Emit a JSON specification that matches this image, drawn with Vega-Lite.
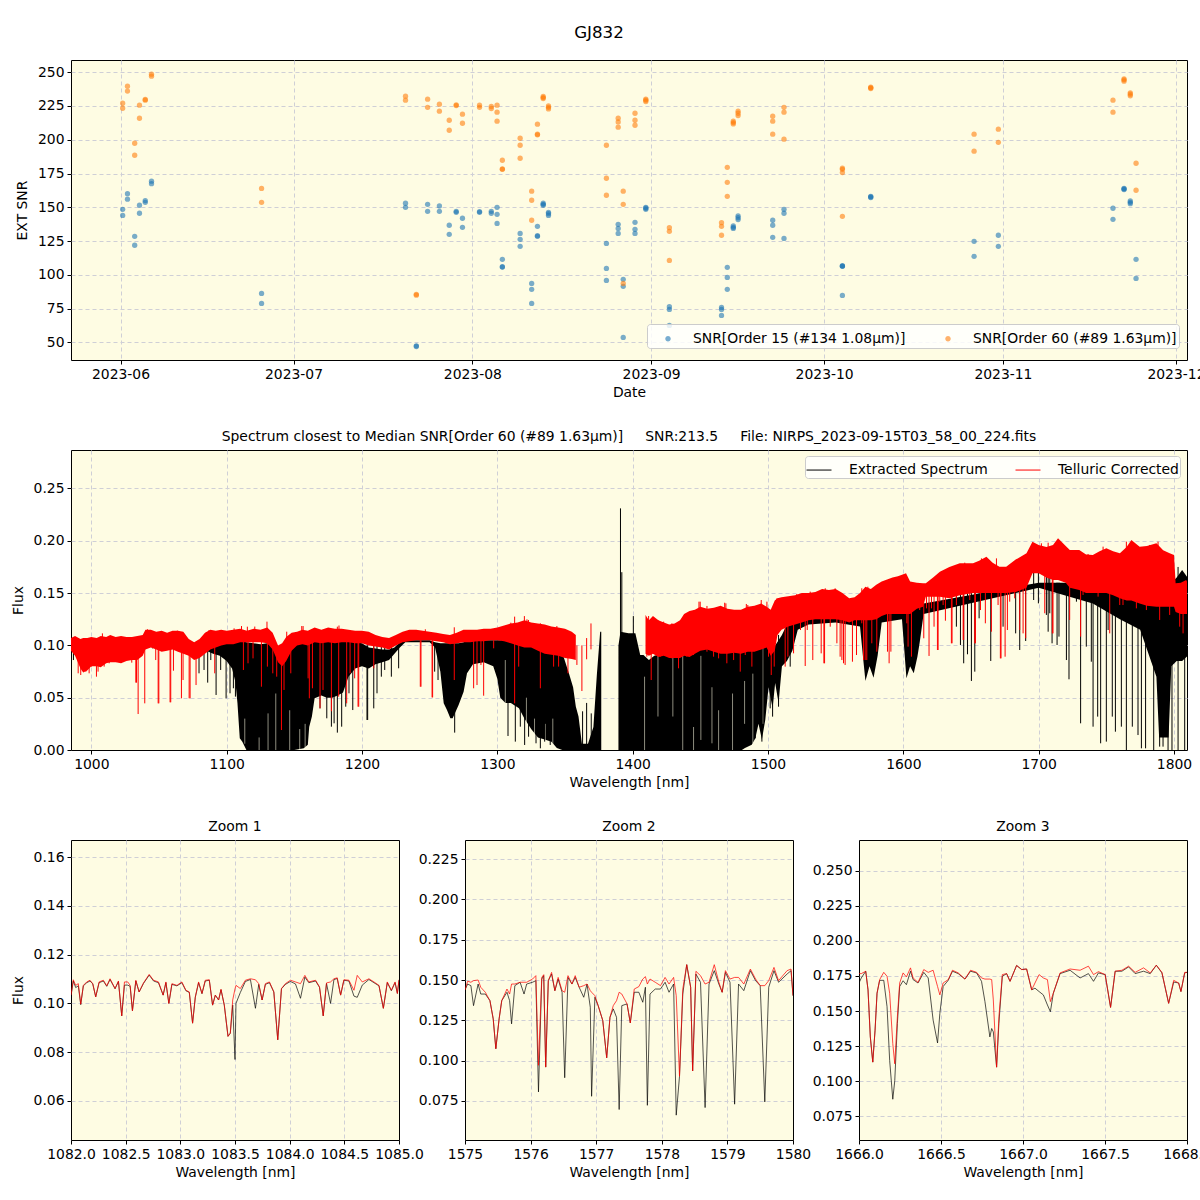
{"$schema":"https://vega.github.io/schema/vega-lite/v6.json","padding":{"left":10,"top":24,"right":0,"bottom":5},"bounds":"flush","spacing":90,"title":{"text":"GJ832","fontSize":16.7,"fontWeight":"normal","font":"DejaVu Sans","anchor":"middle","dx":528,"offset":18,"frame":"group"},"config":{"font":"DejaVu Sans","view":{"fill":"#fefce3","stroke":"black","strokeWidth":1},"axis":{"domain":false,"tickColor":"black","tickSize":4,"labelFontSize":13.9,"titleFontSize":13.9,"titleFontWeight":"normal","labelColor":"black","titleColor":"black","gridColor":"#cfcfd6","gridDash":[4,3],"gridWidth":1,"labelPadding":3,"labelFlush":false,"labelOverlap":false},"title":{"fontSize":13.9,"fontWeight":"normal","offset":6,"color":"black"},"legend":{"labelFontSize":13.9,"labelColor":"black","labelLimit":500,"fillColor":"rgba(255,255,255,0.82)","strokeColor":"#cccccc","cornerRadius":3}},"resolve":{"scale":{"color":"independent"},"legend":{"color":"independent"}},"datasets":{"snr":[
{"d":"2023-06-01T09:00","v":148.5,"o":"15"},{"d":"2023-06-01T09:00","v":144,"o":"15"},{"d":"2023-06-02T05:00","v":160.1,"o":"15"},{"d":"2023-06-02T05:00","v":156,"o":"15"},{"d":"2023-06-03T11:00","v":128.5,"o":"15"},{"d":"2023-06-03T11:00","v":121.9,"o":"15"},{"d":"2023-06-04T07:00","v":151.5,"o":"15"},{"d":"2023-06-04T07:00","v":145.6,"o":"15"},{"d":"2023-06-05T07:00","v":155,"o":"15"},{"d":"2023-06-05T07:00","v":153.7,"o":"15"},{"d":"2023-06-06T09:00","v":169.3,"o":"15"},{"d":"2023-06-06T09:00","v":167.5,"o":"15"},{"d":"2023-06-25T11:00","v":86.3,"o":"15"},{"d":"2023-06-25T11:00","v":78.9,"o":"15"},{"d":"2023-07-20T10:00","v":153,"o":"15"},{"d":"2023-07-20T10:00","v":150,"o":"15"},{"d":"2023-07-22T07:00","v":47,"o":"15"},{"d":"2023-07-22T07:00","v":47.5,"o":"15"},{"d":"2023-07-24T06:00","v":152.2,"o":"15"},{"d":"2023-07-24T06:00","v":147,"o":"15"},{"d":"2023-07-26T07:00","v":151,"o":"15"},{"d":"2023-07-26T07:00","v":147,"o":"15"},{"d":"2023-07-28T00:00","v":136.7,"o":"15"},{"d":"2023-07-28T00:00","v":130,"o":"15"},{"d":"2023-07-29T05:00","v":147,"o":"15"},{"d":"2023-07-29T05:00","v":146.3,"o":"15"},{"d":"2023-07-30T07:00","v":141.9,"o":"15"},{"d":"2023-07-30T07:00","v":135.2,"o":"15"},{"d":"2023-08-02T06:00","v":146.8,"o":"15"},{"d":"2023-08-02T06:00","v":146.3,"o":"15"},{"d":"2023-08-04T07:00","v":147,"o":"15"},{"d":"2023-08-04T07:00","v":145.6,"o":"15"},{"d":"2023-08-05T07:00","v":150,"o":"15"},{"d":"2023-08-05T07:00","v":144.8,"o":"15"},{"d":"2023-08-05T07:00","v":138.1,"o":"15"},{"d":"2023-08-06T05:00","v":111.5,"o":"15"},{"d":"2023-08-06T05:00","v":106,"o":"15"},{"d":"2023-08-06T05:00","v":105.8,"o":"15"},{"d":"2023-08-09T07:00","v":130.7,"o":"15"},{"d":"2023-08-09T07:00","v":126.3,"o":"15"},{"d":"2023-08-09T07:00","v":121.1,"o":"15"},{"d":"2023-08-11T07:00","v":93.7,"o":"15"},{"d":"2023-08-11T07:00","v":89.3,"o":"15"},{"d":"2023-08-11T07:00","v":78.9,"o":"15"},{"d":"2023-08-12T07:00","v":135.9,"o":"15"},{"d":"2023-08-12T07:00","v":129,"o":"15"},{"d":"2023-08-12T07:00","v":128.5,"o":"15"},{"d":"2023-08-13T07:00","v":153,"o":"15"},{"d":"2023-08-13T07:00","v":152.2,"o":"15"},{"d":"2023-08-13T07:00","v":151.5,"o":"15"},{"d":"2023-08-14T05:00","v":146.3,"o":"15"},{"d":"2023-08-14T05:00","v":145.3,"o":"15"},{"d":"2023-08-14T05:00","v":144,"o":"15"},{"d":"2023-08-24T06:00","v":123.3,"o":"15"},{"d":"2023-08-24T06:00","v":104.8,"o":"15"},{"d":"2023-08-24T06:00","v":95.9,"o":"15"},{"d":"2023-08-26T07:00","v":137.4,"o":"15"},{"d":"2023-08-26T07:00","v":134.4,"o":"15"},{"d":"2023-08-26T07:00","v":130.7,"o":"15"},{"d":"2023-08-27T04:00","v":96.7,"o":"15"},{"d":"2023-08-27T04:00","v":91.5,"o":"15"},{"d":"2023-08-27T04:00","v":53.7,"o":"15"},{"d":"2023-08-29T05:00","v":138.9,"o":"15"},{"d":"2023-08-29T05:00","v":133.7,"o":"15"},{"d":"2023-08-29T05:00","v":130.7,"o":"15"},{"d":"2023-08-31T02:00","v":150,"o":"15"},{"d":"2023-08-31T02:00","v":149.3,"o":"15"},{"d":"2023-08-31T02:00","v":148.5,"o":"15"},{"d":"2023-09-04T04:00","v":76.4,"o":"15"},{"d":"2023-09-04T04:00","v":74.4,"o":"15"},{"d":"2023-09-04T04:00","v":62.6,"o":"15"},{"d":"2023-09-13T05:00","v":75.9,"o":"15"},{"d":"2023-09-13T05:00","v":74.4,"o":"15"},{"d":"2023-09-13T05:00","v":70,"o":"15"},{"d":"2023-09-14T05:00","v":105.6,"o":"15"},{"d":"2023-09-14T05:00","v":98.1,"o":"15"},{"d":"2023-09-14T05:00","v":89.3,"o":"15"},{"d":"2023-09-15T06:00","v":136.2,"o":"15"},{"d":"2023-09-15T06:00","v":135.2,"o":"15"},{"d":"2023-09-15T06:00","v":134.4,"o":"15"},{"d":"2023-09-16T02:00","v":143.6,"o":"15"},{"d":"2023-09-16T02:00","v":142.3,"o":"15"},{"d":"2023-09-16T02:00","v":140.9,"o":"15"},{"d":"2023-09-22T02:00","v":140.4,"o":"15"},{"d":"2023-09-22T02:00","v":136.7,"o":"15"},{"d":"2023-09-22T02:00","v":127.8,"o":"15"},{"d":"2023-09-24T01:00","v":148.5,"o":"15"},{"d":"2023-09-24T01:00","v":145.6,"o":"15"},{"d":"2023-09-24T01:00","v":127,"o":"15"},{"d":"2023-10-04T04:00","v":106.8,"o":"15"},{"d":"2023-10-04T04:00","v":106.5,"o":"15"},{"d":"2023-10-04T04:00","v":106.3,"o":"15"},{"d":"2023-10-04T04:00","v":84.8,"o":"15"},{"d":"2023-10-09T02:00","v":158.1,"o":"15"},{"d":"2023-10-09T02:00","v":157.7,"o":"15"},{"d":"2023-10-09T02:00","v":157.2,"o":"15"},{"d":"2023-10-27T00:00","v":124.8,"o":"15"},{"d":"2023-10-27T00:00","v":113.7,"o":"15"},{"d":"2023-10-31T05:00","v":129.3,"o":"15"},{"d":"2023-10-31T05:00","v":121.1,"o":"15"},{"d":"2023-11-20T02:00","v":149.3,"o":"15"},{"d":"2023-11-20T02:00","v":141.1,"o":"15"},{"d":"2023-11-22T00:00","v":164,"o":"15"},{"d":"2023-11-22T00:00","v":163.6,"o":"15"},{"d":"2023-11-22T00:00","v":163.1,"o":"15"},{"d":"2023-11-23T02:00","v":154.7,"o":"15"},{"d":"2023-11-23T02:00","v":153.7,"o":"15"},{"d":"2023-11-23T02:00","v":152.7,"o":"15"},{"d":"2023-11-24T02:00","v":111.5,"o":"15"},{"d":"2023-11-24T02:00","v":97.4,"o":"15"},
{"d":"2023-06-01T09:00","v":227,"o":"60"},{"d":"2023-06-01T09:00","v":223.3,"o":"60"},{"d":"2023-06-02T05:00","v":239.6,"o":"60"},{"d":"2023-06-02T05:00","v":236,"o":"60"},{"d":"2023-06-03T11:00","v":197.4,"o":"60"},{"d":"2023-06-03T11:00","v":188.5,"o":"60"},{"d":"2023-06-04T07:00","v":225.6,"o":"60"},{"d":"2023-06-04T07:00","v":215.9,"o":"60"},{"d":"2023-06-05T07:00","v":229.8,"o":"60"},{"d":"2023-06-05T07:00","v":229.3,"o":"60"},{"d":"2023-06-06T09:00","v":248.5,"o":"60"},{"d":"2023-06-06T09:00","v":247,"o":"60"},{"d":"2023-06-25T11:00","v":164,"o":"60"},{"d":"2023-06-25T11:00","v":153.7,"o":"60"},{"d":"2023-07-20T10:00","v":232.2,"o":"60"},{"d":"2023-07-20T10:00","v":229.3,"o":"60"},{"d":"2023-07-22T07:00","v":85.6,"o":"60"},{"d":"2023-07-22T07:00","v":85,"o":"60"},{"d":"2023-07-24T06:00","v":230,"o":"60"},{"d":"2023-07-24T06:00","v":224,"o":"60"},{"d":"2023-07-26T07:00","v":226.3,"o":"60"},{"d":"2023-07-26T07:00","v":221.1,"o":"60"},{"d":"2023-07-28T00:00","v":214.4,"o":"60"},{"d":"2023-07-28T00:00","v":207,"o":"60"},{"d":"2023-07-29T05:00","v":225.8,"o":"60"},{"d":"2023-07-29T05:00","v":225.3,"o":"60"},{"d":"2023-07-30T07:00","v":218.9,"o":"60"},{"d":"2023-07-30T07:00","v":212.2,"o":"60"},{"d":"2023-08-02T06:00","v":225.6,"o":"60"},{"d":"2023-08-02T06:00","v":224,"o":"60"},{"d":"2023-08-04T07:00","v":224.6,"o":"60"},{"d":"2023-08-04T07:00","v":223.1,"o":"60"},{"d":"2023-08-05T07:00","v":225.6,"o":"60"},{"d":"2023-08-05T07:00","v":220.4,"o":"60"},{"d":"2023-08-05T07:00","v":213.7,"o":"60"},{"d":"2023-08-06T05:00","v":184.8,"o":"60"},{"d":"2023-08-06T05:00","v":178.4,"o":"60"},{"d":"2023-08-06T05:00","v":178.1,"o":"60"},{"d":"2023-08-09T07:00","v":201.1,"o":"60"},{"d":"2023-08-09T07:00","v":195.9,"o":"60"},{"d":"2023-08-09T07:00","v":186.3,"o":"60"},{"d":"2023-08-11T07:00","v":161.9,"o":"60"},{"d":"2023-08-11T07:00","v":155.2,"o":"60"},{"d":"2023-08-11T07:00","v":140.4,"o":"60"},{"d":"2023-08-12T07:00","v":211.5,"o":"60"},{"d":"2023-08-12T07:00","v":204.1,"o":"60"},{"d":"2023-08-12T07:00","v":203.6,"o":"60"},{"d":"2023-08-13T07:00","v":232,"o":"60"},{"d":"2023-08-13T07:00","v":231.2,"o":"60"},{"d":"2023-08-13T07:00","v":230.5,"o":"60"},{"d":"2023-08-14T05:00","v":225,"o":"60"},{"d":"2023-08-14T05:00","v":224,"o":"60"},{"d":"2023-08-14T05:00","v":222.8,"o":"60"},{"d":"2023-08-24T06:00","v":195.9,"o":"60"},{"d":"2023-08-24T06:00","v":171.5,"o":"60"},{"d":"2023-08-24T06:00","v":158.9,"o":"60"},{"d":"2023-08-26T07:00","v":215.9,"o":"60"},{"d":"2023-08-26T07:00","v":213.2,"o":"60"},{"d":"2023-08-26T07:00","v":209.3,"o":"60"},{"d":"2023-08-27T04:00","v":161.9,"o":"60"},{"d":"2023-08-27T04:00","v":152.2,"o":"60"},{"d":"2023-08-27T04:00","v":93.7,"o":"60"},{"d":"2023-08-29T05:00","v":219.6,"o":"60"},{"d":"2023-08-29T05:00","v":214.4,"o":"60"},{"d":"2023-08-29T05:00","v":210.7,"o":"60"},{"d":"2023-08-31T02:00","v":230,"o":"60"},{"d":"2023-08-31T02:00","v":229.3,"o":"60"},{"d":"2023-08-31T02:00","v":228.3,"o":"60"},{"d":"2023-09-04T04:00","v":134.9,"o":"60"},{"d":"2023-09-04T04:00","v":132.2,"o":"60"},{"d":"2023-09-04T04:00","v":110.7,"o":"60"},{"d":"2023-09-13T05:00","v":138.6,"o":"60"},{"d":"2023-09-13T05:00","v":135.9,"o":"60"},{"d":"2023-09-13T05:00","v":129.3,"o":"60"},{"d":"2023-09-14T05:00","v":179.6,"o":"60"},{"d":"2023-09-14T05:00","v":168.5,"o":"60"},{"d":"2023-09-14T05:00","v":158.1,"o":"60"},{"d":"2023-09-15T06:00","v":213.7,"o":"60"},{"d":"2023-09-15T06:00","v":212.7,"o":"60"},{"d":"2023-09-15T06:00","v":211.7,"o":"60"},{"d":"2023-09-16T02:00","v":221.1,"o":"60"},{"d":"2023-09-16T02:00","v":219.6,"o":"60"},{"d":"2023-09-16T02:00","v":217.9,"o":"60"},{"d":"2023-09-22T02:00","v":217.4,"o":"60"},{"d":"2023-09-22T02:00","v":213.7,"o":"60"},{"d":"2023-09-22T02:00","v":204.1,"o":"60"},{"d":"2023-09-24T01:00","v":224,"o":"60"},{"d":"2023-09-24T01:00","v":220.4,"o":"60"},{"d":"2023-09-24T01:00","v":200.4,"o":"60"},{"d":"2023-10-04T04:00","v":178.9,"o":"60"},{"d":"2023-10-04T04:00","v":178.1,"o":"60"},{"d":"2023-10-04T04:00","v":175.7,"o":"60"},{"d":"2023-10-04T04:00","v":143.3,"o":"60"},{"d":"2023-10-09T02:00","v":238.9,"o":"60"},{"d":"2023-10-09T02:00","v":238.4,"o":"60"},{"d":"2023-10-09T02:00","v":237.9,"o":"60"},{"d":"2023-10-27T00:00","v":204.1,"o":"60"},{"d":"2023-10-27T00:00","v":191.5,"o":"60"},{"d":"2023-10-31T05:00","v":207.8,"o":"60"},{"d":"2023-10-31T05:00","v":198.1,"o":"60"},{"d":"2023-11-20T02:00","v":229.3,"o":"60"},{"d":"2023-11-20T02:00","v":220.4,"o":"60"},{"d":"2023-11-22T00:00","v":245,"o":"60"},{"d":"2023-11-22T00:00","v":244.3,"o":"60"},{"d":"2023-11-22T00:00","v":243.3,"o":"60"},{"d":"2023-11-23T02:00","v":234.7,"o":"60"},{"d":"2023-11-23T02:00","v":233.7,"o":"60"},{"d":"2023-11-23T02:00","v":232.5,"o":"60"},{"d":"2023-11-24T02:00","v":182.6,"o":"60"},{"d":"2023-11-24T02:00","v":162.6,"o":"60"}],
"blackBand":[
{"w":1085,"lo":0.095,"hi":0.105,"g":1},{"w":1090,"lo":0.092,"hi":0.106,"g":1},{"w":1095,"lo":0.09,"hi":0.106,"g":1},{"w":1100,"lo":0.085,"hi":0.104,"g":1},{"w":1104,"lo":0.078,"hi":0.106,"g":1},{"w":1106.5,"lo":0.065,"hi":0.104,"g":1},{"w":1108,"lo":0.0446,"hi":0.103,"g":1},{"w":1109.7,"lo":0.0112,"hi":0.104,"g":1},{"w":1111.6,"lo":0.008,"hi":0.104,"g":1},{"w":1114.6,"lo":0,"hi":0.103,"g":1},{"w":1120,"lo":0,"hi":0.102,"g":1},{"w":1125,"lo":0,"hi":0.101,"g":1},{"w":1130,"lo":0,"hi":0.102,"g":1},{"w":1135,"lo":0,"hi":0.098,"g":1},{"w":1140,"lo":0,"hi":0.097,"g":1},{"w":1143,"lo":0,"hi":0.098,"g":1},{"w":1146,"lo":0,"hi":0.104,"g":1},{"w":1150,"lo":0,"hi":0.104,"g":1},{"w":1157,"lo":0.0016,"hi":0.104,"g":1},{"w":1160,"lo":0.005,"hi":0.105,"g":1},{"w":1161,"lo":0.022,"hi":0.105,"g":1},{"w":1163,"lo":0.032,"hi":0.104,"g":1},{"w":1165,"lo":0.0494,"hi":0.104,"g":1},{"w":1170,"lo":0.052,"hi":0.104,"g":1},{"w":1174,"lo":0.05,"hi":0.106,"g":1},{"w":1178,"lo":0.05,"hi":0.105,"g":1},{"w":1182,"lo":0.052,"hi":0.106,"g":1},{"w":1186,"lo":0.055,"hi":0.106,"g":1},{"w":1190,"lo":0.07,"hi":0.104,"g":1},{"w":1195,"lo":0.078,"hi":0.103,"g":1},{"w":1200,"lo":0.08,"hi":0.102,"g":1},{"w":1205,"lo":0.078,"hi":0.098,"g":1},{"w":1210,"lo":0.082,"hi":0.097,"g":1},{"w":1215,"lo":0.084,"hi":0.096,"g":1},{"w":1220,"lo":0.086,"hi":0.096,"g":1},{"w":1224,"lo":0.092,"hi":0.098,"g":1},{"w":1228,"lo":0.098,"hi":0.103,"g":1},{"w":1232,"lo":0.103,"hi":0.105,"g":1},{"w":1250,"lo":0.103,"hi":0.105,"g":1},{"w":1254,"lo":0.098,"hi":0.103,"g":1},{"w":1257.9,"lo":0.075,"hi":0.102,"g":1},{"w":1260.4,"lo":0.0446,"hi":0.102,"g":1},{"w":1262.8,"lo":0.0382,"hi":0.102,"g":1},{"w":1265.3,"lo":0.0303,"hi":0.102,"g":1},{"w":1267,"lo":0.0303,"hi":0.102,"g":1},{"w":1271.4,"lo":0.043,"hi":0.102,"g":1},{"w":1275.1,"lo":0.0558,"hi":0.103,"g":1},{"w":1277.6,"lo":0.0733,"hi":0.104,"g":1},{"w":1282,"lo":0.082,"hi":0.105,"g":1},{"w":1290,"lo":0.084,"hi":0.105,"g":1},{"w":1297,"lo":0.08,"hi":0.105,"g":1},{"w":1300,"lo":0.068,"hi":0.105,"g":1},{"w":1302.2,"lo":0.05,"hi":0.105,"g":1},{"w":1306,"lo":0.045,"hi":0.106,"g":1},{"w":1310,"lo":0.045,"hi":0.108,"g":1},{"w":1316,"lo":0.04,"hi":0.11,"g":1},{"w":1320,"lo":0.03,"hi":0.112,"g":1},{"w":1325,"lo":0.02,"hi":0.113,"g":1},{"w":1330,"lo":0.012,"hi":0.11,"g":1},{"w":1335,"lo":0.01,"hi":0.109,"g":1},{"w":1340,"lo":0.008,"hi":0.108,"g":1},{"w":1344,"lo":0.002,"hi":0.1,"g":1},{"w":1348,"lo":0,"hi":0.093,"g":1},{"w":1353,"lo":0,"hi":0.073,"g":1},{"w":1356,"lo":0,"hi":0.06,"g":1},{"w":1358,"lo":0,"hi":0.0415,"g":1},{"w":1360,"lo":0,"hi":0.032,"g":1},{"w":1362.5,"lo":0,"hi":0.006,"g":1},{"w":1367,"lo":0,"hi":0.006,"g":1},{"w":1371,"lo":0,"hi":0.022,"g":1},{"w":1373.6,"lo":0,"hi":0.073,"g":1},{"w":1376,"lo":0,"hi":0.113,"g":1},{"w":1376.8,"lo":0,"hi":0.113,"g":1},
{"w":1389.5,"lo":0,"hi":0.1,"g":2},{"w":1391,"lo":0,"hi":0.113,"g":2},{"w":1397,"lo":0,"hi":0.1115,"g":2},{"w":1402,"lo":0,"hi":0.1115,"g":2},{"w":1405.6,"lo":0,"hi":0.0908,"g":2},{"w":1408,"lo":0,"hi":0.0908,"g":2},{"w":1412,"lo":0,"hi":0.086,"g":2},{"w":1416,"lo":0,"hi":0.09,"g":2},{"w":1421.6,"lo":0,"hi":0.092,"g":2},{"w":1428,"lo":0,"hi":0.09,"g":2},{"w":1434,"lo":0,"hi":0.094,"g":2},{"w":1441,"lo":0,"hi":0.108,"g":2},{"w":1446,"lo":0,"hi":0.11,"g":2},{"w":1452,"lo":0,"hi":0.114,"g":2},{"w":1458.6,"lo":0,"hi":0.1179,"g":2},{"w":1465,"lo":0,"hi":0.114,"g":2},{"w":1472,"lo":0,"hi":0.1163,"g":2},{"w":1478,"lo":0,"hi":0.118,"g":2},{"w":1480.7,"lo":0,"hi":0.118,"g":2},{"w":1483,"lo":0.002,"hi":0.12,"g":2},{"w":1488,"lo":0.005,"hi":0.122,"g":2},{"w":1490.6,"lo":0.011,"hi":0.1227,"g":2},{"w":1493,"lo":0.025,"hi":0.122,"g":2},{"w":1495.5,"lo":0.01,"hi":0.1227,"g":2},{"w":1498,"lo":0.029,"hi":0.1227,"g":2},{"w":1500.4,"lo":0.06,"hi":0.1227,"g":2},{"w":1503.4,"lo":0.04,"hi":0.11,"g":2},{"w":1505.3,"lo":0.064,"hi":0.1,"g":2},{"w":1507.8,"lo":0.045,"hi":0.105,"g":2},{"w":1510.3,"lo":0.08,"hi":0.11,"g":2},{"w":1514,"lo":0.085,"hi":0.12,"g":2},{"w":1518,"lo":0.095,"hi":0.125,"g":2},{"w":1522,"lo":0.115,"hi":0.135,"g":2},{"w":1530,"lo":0.12,"hi":0.14,"g":2},{"w":1550,"lo":0.122,"hi":0.14,"g":2},{"w":1568,"lo":0.118,"hi":0.14,"g":2},{"w":1570.5,"lo":0.085,"hi":0.14,"g":2},{"w":1572,"lo":0.066,"hi":0.14,"g":2},{"w":1575,"lo":0.08,"hi":0.14,"g":2},{"w":1578,"lo":0.069,"hi":0.14,"g":2},{"w":1581,"lo":0.09,"hi":0.14,"g":2},{"w":1584,"lo":0.122,"hi":0.14,"g":2},{"w":1599,"lo":0.125,"hi":0.14,"g":2},{"w":1602.3,"lo":0.0685,"hi":0.14,"g":2},{"w":1605,"lo":0.08,"hi":0.14,"g":2},{"w":1607.7,"lo":0.0733,"hi":0.14,"g":2},{"w":1610.4,"lo":0.0892,"hi":0.14,"g":2},{"w":1612,"lo":0.102,"hi":0.14,"g":2},{"w":1615,"lo":0.13,"hi":0.14,"g":2},{"w":1700,"lo":0.155,"hi":0.16,"g":2},{"w":1740,"lo":0.14,"hi":0.16,"g":2},{"w":1760,"lo":0.125,"hi":0.16,"g":2},{"w":1775,"lo":0.115,"hi":0.16,"g":2},{"w":1787,"lo":0.07,"hi":0.16,"g":2},{"w":1789,"lo":0.012,"hi":0.16,"g":2},{"w":1796,"lo":0.012,"hi":0.16,"g":2},{"w":1798,"lo":0.08,"hi":0.16,"g":2},{"w":1802,"lo":0.085,"hi":0.165,"g":2},{"w":1806,"lo":0.085,"hi":0.172,"g":2},{"w":1810,"lo":0.09,"hi":0.165,"g":2}],
"redBand":[
{"w":985,"lo":0.095,"hi":0.107,"g":1},{"w":988,"lo":0.09,"hi":0.109,"g":1},{"w":992,"lo":0.078,"hi":0.106,"g":1},{"w":994,"lo":0.074,"hi":0.107,"g":1},{"w":997,"lo":0.076,"hi":0.107,"g":1},{"w":1000,"lo":0.08,"hi":0.108,"g":1},{"w":1004,"lo":0.08,"hi":0.107,"g":1},{"w":1007,"lo":0.079,"hi":0.109,"g":1},{"w":1011,"lo":0.083,"hi":0.108,"g":1},{"w":1014,"lo":0.084,"hi":0.11,"g":1},{"w":1018,"lo":0.084,"hi":0.108,"g":1},{"w":1022,"lo":0.083,"hi":0.109,"g":1},{"w":1026,"lo":0.085,"hi":0.108,"g":1},{"w":1030,"lo":0.086,"hi":0.108,"g":1},{"w":1034,"lo":0.086,"hi":0.109,"g":1},{"w":1038,"lo":0.09,"hi":0.11,"g":1},{"w":1040,"lo":0.096,"hi":0.115,"g":1},{"w":1044,"lo":0.098,"hi":0.115,"g":1},{"w":1048,"lo":0.096,"hi":0.113,"g":1},{"w":1052,"lo":0.094,"hi":0.114,"g":1},{"w":1056,"lo":0.095,"hi":0.112,"g":1},{"w":1060,"lo":0.096,"hi":0.114,"g":1},{"w":1064,"lo":0.094,"hi":0.114,"g":1},{"w":1068,"lo":0.092,"hi":0.113,"g":1},{"w":1072,"lo":0.09,"hi":0.106,"g":1},{"w":1076,"lo":0.086,"hi":0.103,"g":1},{"w":1080,"lo":0.088,"hi":0.106,"g":1},{"w":1084,"lo":0.092,"hi":0.112,"g":1},{"w":1088,"lo":0.096,"hi":0.115,"g":1},{"w":1092,"lo":0.098,"hi":0.114,"g":1},{"w":1096,"lo":0.1,"hi":0.115,"g":1},{"w":1100,"lo":0.101,"hi":0.114,"g":1},{"w":1105,"lo":0.101,"hi":0.115,"g":1},{"w":1110,"lo":0.103,"hi":0.116,"g":1},{"w":1115,"lo":0.103,"hi":0.114,"g":1},{"w":1120,"lo":0.103,"hi":0.116,"g":1},{"w":1125,"lo":0.103,"hi":0.115,"g":1},{"w":1130,"lo":0.102,"hi":0.117,"g":1},{"w":1134,"lo":0.096,"hi":0.112,"g":1},{"w":1138,"lo":0.084,"hi":0.1,"g":1},{"w":1141,"lo":0.08,"hi":0.102,"g":1},{"w":1144,"lo":0.085,"hi":0.108,"g":1},{"w":1148,"lo":0.095,"hi":0.112,"g":1},{"w":1152,"lo":0.1,"hi":0.113,"g":1},{"w":1156,"lo":0.101,"hi":0.115,"g":1},{"w":1160,"lo":0.1,"hi":0.114,"g":1},{"w":1165,"lo":0.103,"hi":0.117,"g":1},{"w":1170,"lo":0.102,"hi":0.115,"g":1},{"w":1175,"lo":0.103,"hi":0.117,"g":1},{"w":1180,"lo":0.102,"hi":0.116,"g":1},{"w":1185,"lo":0.103,"hi":0.116,"g":1},{"w":1190,"lo":0.103,"hi":0.115,"g":1},{"w":1195,"lo":0.102,"hi":0.114,"g":1},{"w":1200,"lo":0.102,"hi":0.114,"g":1},{"w":1205,"lo":0.1,"hi":0.113,"g":1},{"w":1210,"lo":0.099,"hi":0.11,"g":1},{"w":1215,"lo":0.098,"hi":0.108,"g":1},{"w":1220,"lo":0.096,"hi":0.107,"g":1},{"w":1225,"lo":0.1,"hi":0.11,"g":1},{"w":1230,"lo":0.103,"hi":0.113,"g":1},{"w":1235,"lo":0.104,"hi":0.115,"g":1},{"w":1240,"lo":0.105,"hi":0.115,"g":1},{"w":1245,"lo":0.105,"hi":0.114,"g":1},{"w":1250,"lo":0.105,"hi":0.113,"g":1},{"w":1255,"lo":0.104,"hi":0.112,"g":1},{"w":1260,"lo":0.103,"hi":0.111,"g":1},{"w":1265,"lo":0.101,"hi":0.11,"g":1},{"w":1270,"lo":0.102,"hi":0.112,"g":1},{"w":1275,"lo":0.103,"hi":0.115,"g":1},{"w":1280,"lo":0.103,"hi":0.115,"g":1},{"w":1285,"lo":0.104,"hi":0.115,"g":1},{"w":1290,"lo":0.104,"hi":0.116,"g":1},{"w":1295,"lo":0.105,"hi":0.116,"g":1},{"w":1300,"lo":0.105,"hi":0.117,"g":1},{"w":1305,"lo":0.104,"hi":0.119,"g":1},{"w":1310,"lo":0.102,"hi":0.121,"g":1},{"w":1315,"lo":0.1,"hi":0.122,"g":1},{"w":1320,"lo":0.098,"hi":0.124,"g":1},{"w":1325,"lo":0.098,"hi":0.122,"g":1},{"w":1330,"lo":0.095,"hi":0.121,"g":1},{"w":1335,"lo":0.092,"hi":0.12,"g":1},{"w":1340,"lo":0.091,"hi":0.118,"g":1},{"w":1345,"lo":0.09,"hi":0.117,"g":1},{"w":1350,"lo":0.088,"hi":0.116,"g":1},{"w":1355,"lo":0.087,"hi":0.113,"g":1},{"w":1358,"lo":0.086,"hi":0.11,"g":1},
{"w":1409.5,"lo":0.092,"hi":0.129,"g":2},{"w":1412,"lo":0.09,"hi":0.124,"g":2},{"w":1415,"lo":0.092,"hi":0.128,"g":2},{"w":1419,"lo":0.089,"hi":0.124,"g":2},{"w":1423,"lo":0.09,"hi":0.122,"g":2},{"w":1427,"lo":0.088,"hi":0.12,"g":2},{"w":1431,"lo":0.088,"hi":0.121,"g":2},{"w":1435,"lo":0.088,"hi":0.124,"g":2},{"w":1438,"lo":0.09,"hi":0.13,"g":2},{"w":1442,"lo":0.089,"hi":0.133,"g":2},{"w":1446,"lo":0.092,"hi":0.134,"g":2},{"w":1450,"lo":0.095,"hi":0.137,"g":2},{"w":1455,"lo":0.096,"hi":0.135,"g":2},{"w":1460,"lo":0.094,"hi":0.136,"g":2},{"w":1465,"lo":0.092,"hi":0.138,"g":2},{"w":1470,"lo":0.092,"hi":0.135,"g":2},{"w":1475,"lo":0.093,"hi":0.134,"g":2},{"w":1480,"lo":0.092,"hi":0.134,"g":2},{"w":1485,"lo":0.094,"hi":0.137,"g":2},{"w":1490,"lo":0.094,"hi":0.138,"g":2},{"w":1495,"lo":0.096,"hi":0.14,"g":2},{"w":1499,"lo":0.098,"hi":0.137,"g":2},{"w":1502,"lo":0.09,"hi":0.134,"g":2},{"w":1505,"lo":0.095,"hi":0.143,"g":2},{"w":1507,"lo":0.11,"hi":0.145,"g":2},{"w":1510,"lo":0.115,"hi":0.146,"g":2},{"w":1515,"lo":0.118,"hi":0.147,"g":2},{"w":1520,"lo":0.12,"hi":0.148,"g":2},{"w":1525,"lo":0.122,"hi":0.15,"g":2},{"w":1530,"lo":0.124,"hi":0.15,"g":2},{"w":1535,"lo":0.125,"hi":0.151,"g":2},{"w":1540,"lo":0.125,"hi":0.154,"g":2},{"w":1545,"lo":0.125,"hi":0.153,"g":2},{"w":1550,"lo":0.125,"hi":0.154,"g":2},{"w":1555,"lo":0.124,"hi":0.15,"g":2},{"w":1560,"lo":0.122,"hi":0.145,"g":2},{"w":1564,"lo":0.124,"hi":0.146,"g":2},{"w":1568,"lo":0.124,"hi":0.15,"g":2},{"w":1572,"lo":0.124,"hi":0.156,"g":2},{"w":1576,"lo":0.124,"hi":0.154,"g":2},{"w":1580,"lo":0.125,"hi":0.158,"g":2},{"w":1584,"lo":0.128,"hi":0.161,"g":2},{"w":1588,"lo":0.13,"hi":0.163,"g":2},{"w":1592,"lo":0.13,"hi":0.165,"g":2},{"w":1596,"lo":0.13,"hi":0.166,"g":2},{"w":1602,"lo":0.13,"hi":0.1689,"g":2},{"w":1605,"lo":0.13,"hi":0.161,"g":2},{"w":1610,"lo":0.135,"hi":0.16,"g":2},{"w":1614.6,"lo":0.137,"hi":0.1593,"g":2},{"w":1616.6,"lo":0.1466,"hi":0.1593,"g":2},{"w":1622,"lo":0.1466,"hi":0.165,"g":2},{"w":1627,"lo":0.1466,"hi":0.1705,"g":2},{"w":1634,"lo":0.145,"hi":0.175,"g":2},{"w":1641.7,"lo":0.148,"hi":0.1785,"g":2},{"w":1651.5,"lo":0.15,"hi":0.1785,"g":2},{"w":1656,"lo":0.15,"hi":0.181,"g":2},{"w":1661.4,"lo":0.15,"hi":0.1848,"g":2},{"w":1666,"lo":0.15,"hi":0.179,"g":2},{"w":1671,"lo":0.15,"hi":0.1753,"g":2},{"w":1676,"lo":0.15,"hi":0.1753,"g":2},{"w":1683,"lo":0.151,"hi":0.182,"g":2},{"w":1691,"lo":0.155,"hi":0.188,"g":2},{"w":1695.4,"lo":0.169,"hi":0.1992,"g":2},{"w":1700,"lo":0.169,"hi":0.196,"g":2},{"w":1705.7,"lo":0.165,"hi":0.194,"g":2},{"w":1710.6,"lo":0.1625,"hi":0.196,"g":2},{"w":1714.3,"lo":0.1625,"hi":0.2024,"g":2},{"w":1720,"lo":0.16,"hi":0.195,"g":2},{"w":1723,"lo":0.155,"hi":0.1912,"g":2},{"w":1730,"lo":0.153,"hi":0.1912,"g":2},{"w":1735,"lo":0.15,"hi":0.187,"g":2},{"w":1740,"lo":0.15,"hi":0.1864,"g":2},{"w":1745,"lo":0.15,"hi":0.19,"g":2},{"w":1750,"lo":0.15,"hi":0.1928,"g":2},{"w":1755,"lo":0.148,"hi":0.19,"g":2},{"w":1760,"lo":0.145,"hi":0.188,"g":2},{"w":1765,"lo":0.143,"hi":0.194,"g":2},{"w":1768.5,"lo":0.143,"hi":0.2008,"g":2},{"w":1774.6,"lo":0.14,"hi":0.1944,"g":2},{"w":1780,"lo":0.138,"hi":0.195,"g":2},{"w":1787,"lo":0.137,"hi":0.1976,"g":2},{"w":1792,"lo":0.137,"hi":0.191,"g":2},{"w":1796.8,"lo":0.137,"hi":0.188,"g":2},{"w":1800,"lo":0.137,"hi":0.1864,"g":2},{"w":1801.2,"lo":0.132,"hi":0.1593,"g":2},{"w":1805,"lo":0.13,"hi":0.16,"g":2},{"w":1809,"lo":0.13,"hi":0.1625,"g":2},{"w":1810,"lo":0.13,"hi":0.16,"g":2}],
"slits":[
{"w":1113.4,"lo":0.006,"hi":0.03},{"w":1124,"lo":0,"hi":0.012},{"w":1130.6,"lo":0,"hi":0.035},{"w":1136.3,"lo":0,"hi":0.054},{"w":1146.6,"lo":0,"hi":0.038},{"w":1154,"lo":0,"hi":0.02},{"w":1158,"lo":0,"hi":0.025},{"w":1305.9,"lo":0.041,"hi":0.086},{"w":1321.5,"lo":0.015,"hi":0.05},{"w":1327.5,"lo":0.006,"hi":0.03},{"w":1335.5,"lo":0.003,"hi":0.025},{"w":1341,"lo":0.002,"hi":0.03},{"w":1408.8,"lo":0,"hi":0.0701},{"w":1418.7,"lo":0.032,"hi":0.105},{"w":1429.7,"lo":0.032,"hi":0.094},{"w":1437,"lo":0,"hi":0.09},{"w":1445,"lo":0,"hi":0.022},{"w":1450.4,"lo":0.0096,"hi":0.09},{"w":1458.6,"lo":0.0064,"hi":0.06},{"w":1463.5,"lo":0,"hi":0.038},{"w":1473.8,"lo":0,"hi":0.054},{"w":1482.7,"lo":0.025,"hi":0.066},{"w":1488.8,"lo":0.0064,"hi":0.073},{"w":1496.2,"lo":0.025,"hi":0.1}],
"blackSpikes":[
{"w":986.8,"lo":0.086,"hi":0.1},{"w":1045.2,"lo":0.0972,"hi":0.1},{"w":1079.6,"lo":0.0733,"hi":0.1},{"w":1083.3,"lo":0.0765,"hi":0.1},{"w":1086,"lo":0.0644,"hi":0.1},{"w":1088.3,"lo":0.086,"hi":0.1},{"w":1092.2,"lo":0.0526,"hi":0.1},{"w":1095.6,"lo":0.0765,"hi":0.1},{"w":1099.6,"lo":0.0494,"hi":0.1},{"w":1102.5,"lo":0.0542,"hi":0.1},{"w":1105,"lo":0.059,"hi":0.1},{"w":1106.5,"lo":0.051,"hi":0.1},{"w":1169,"lo":0.0398,"hi":0.1},{"w":1174,"lo":0.0303,"hi":0.1},{"w":1177.4,"lo":0.0223,"hi":0.1},{"w":1179.4,"lo":0.0255,"hi":0.1},{"w":1181.8,"lo":0.0166,"hi":0.1},{"w":1185,"lo":0.0223,"hi":0.1},{"w":1188,"lo":0.0414,"hi":0.1},{"w":1190.4,"lo":0.0542,"hi":0.1},{"w":1193.2,"lo":0.0382,"hi":0.1},{"w":1203.7,"lo":0.0287,"hi":0.1},{"w":1204.2,"lo":0.0287,"hi":0.1},{"w":1208.7,"lo":0.0398,"hi":0.1},{"w":1211.1,"lo":0.0542,"hi":0.1},{"w":1214.3,"lo":0.0701,"hi":0.1},{"w":1216.8,"lo":0.0765,"hi":0.1},{"w":1221.7,"lo":0.0701,"hi":0.1},{"w":1227.1,"lo":0.0781,"hi":0.1},{"w":1253.7,"lo":0.0749,"hi":0.1},{"w":1256.2,"lo":0.0669,"hi":0.1},{"w":1268.5,"lo":0.0166,"hi":0.1},{"w":1307.9,"lo":0.0134,"hi":0.1},{"w":1313.3,"lo":0.008,"hi":0.1},{"w":1317,"lo":0.0223,"hi":0.1},{"w":1320.2,"lo":0.0048,"hi":0.1},{"w":1323.1,"lo":0.0127,"hi":0.1},{"w":1326.8,"lo":0.0382,"hi":0.1},{"w":1328.6,"lo":0.0064,"hi":0.1},{"w":1331.8,"lo":0.0016,"hi":0.1},{"w":1335,"lo":0.008,"hi":0.1},{"w":1339.1,"lo":0.0048,"hi":0.1},{"w":1363,"lo":0,"hi":0.037},{"w":1366,"lo":0,"hi":0.045},{"w":1369.4,"lo":0,"hi":0.035},{"w":1391,"lo":0,"hi":0.231},{"w":1392,"lo":0,"hi":0.17},{"w":1400.5,"lo":0,"hi":0.128},{"w":1490.6,"lo":0.0112,"hi":0.11},{"w":1495.5,"lo":0.008,"hi":0.11},{"w":1501.6,"lo":0.0398,"hi":0.11},{"w":1503.4,"lo":0.0319,"hi":0.11},{"w":1507.8,"lo":0.0414,"hi":0.11},{"w":1516.4,"lo":0.0797,"hi":0.12},{"w":1520,"lo":0.1115,"hi":0.13},{"w":1528.2,"lo":0.1211,"hi":0.13},{"w":1639.2,"lo":0.1179,"hi":0.15},{"w":1642.2,"lo":0.1004,"hi":0.15},{"w":1644.6,"lo":0.0829,"hi":0.15},{"w":1647.4,"lo":0.0915,"hi":0.15},{"w":1650.3,"lo":0.066,"hi":0.15},{"w":1652.8,"lo":0.0749,"hi":0.15},{"w":1656,"lo":0.1259,"hi":0.15},{"w":1658.4,"lo":0.153,"hi":0.16},{"w":1664.6,"lo":0.0851,"hi":0.16},{"w":1673.7,"lo":0.1179,"hi":0.16},{"w":1683,"lo":0.1115,"hi":0.16},{"w":1686,"lo":0.0956,"hi":0.16},{"w":1690.4,"lo":0.1042,"hi":0.16},{"w":1696.3,"lo":0.1434,"hi":0.17},{"w":1699.8,"lo":0.1402,"hi":0.17},{"w":1705.7,"lo":0.1291,"hi":0.17},{"w":1707,"lo":0.1131,"hi":0.17},{"w":1708.2,"lo":0.1307,"hi":0.17},{"w":1709.9,"lo":0.102,"hi":0.16},{"w":1713.6,"lo":0.1004,"hi":0.16},{"w":1715,"lo":0.1084,"hi":0.16},{"w":1720.5,"lo":0.086,"hi":0.16},{"w":1722.4,"lo":0.0676,"hi":0.16},{"w":1727.9,"lo":0.1418,"hi":0.16},{"w":1731,"lo":0.0255,"hi":0.16},{"w":1735.2,"lo":0.0988,"hi":0.16},{"w":1738.9,"lo":0.0844,"hi":0.16},{"w":1740.2,"lo":0.0223,"hi":0.16},{"w":1743.6,"lo":0.0319,"hi":0.16},{"w":1745.8,"lo":0.0064,"hi":0.16},{"w":1750,"lo":0.008,"hi":0.16},{"w":1751.3,"lo":0.1147,"hi":0.16},{"w":1754.4,"lo":0.0319,"hi":0.16},{"w":1756.7,"lo":0.0175,"hi":0.16},{"w":1761.1,"lo":0.0223,"hi":0.16},{"w":1764.8,"lo":0,"hi":0.16},{"w":1769.2,"lo":0.0223,"hi":0.16},{"w":1773.4,"lo":0.0143,"hi":0.16},{"w":1775.9,"lo":0.0016,"hi":0.16},{"w":1779,"lo":0.0016,"hi":0.16},{"w":1782,"lo":0.1147,"hi":0.16},{"w":1785,"lo":0,"hi":0.16},{"w":1789.4,"lo":0.0032,"hi":0.16},{"w":1791.9,"lo":0.0032,"hi":0.16},{"w":1795.6,"lo":0,"hi":0.16},{"w":1798.5,"lo":0,"hi":0.16},{"w":1803,"lo":0,"hi":0.175},{"w":1807.9,"lo":0,"hi":0.165}],
"redSpikes":[
{"w":990.3,"lo":0.0733,"hi":0.1},{"w":992.2,"lo":0.0717,"hi":0.1},{"w":996,"lo":0.0749,"hi":0.1},{"w":998.4,"lo":0.0733,"hi":0.1},{"w":1000.1,"lo":0.0797,"hi":0.1},{"w":1003.8,"lo":0.0701,"hi":0.1},{"w":1005,"lo":0.0749,"hi":0.1},{"w":1009.5,"lo":0.0797,"hi":0.1},{"w":1013.2,"lo":0.0829,"hi":0.1},{"w":1016.9,"lo":0.0844,"hi":0.1},{"w":1021.8,"lo":0.086,"hi":0.1},{"w":1025.5,"lo":0.0876,"hi":0.1},{"w":1029.9,"lo":0.0835,"hi":0.1},{"w":1032.9,"lo":0.0644,"hi":0.1},{"w":1033.4,"lo":0.0644,"hi":0.1},{"w":1034.6,"lo":0.0344,"hi":0.1},{"w":1039.5,"lo":0.0446,"hi":0.1},{"w":1047.6,"lo":0.086,"hi":0.1},{"w":1049.4,"lo":0.0446,"hi":0.1},{"w":1049.9,"lo":0.0446,"hi":0.1},{"w":1058.2,"lo":0.0456,"hi":0.1},{"w":1058.7,"lo":0.0456,"hi":0.1},{"w":1060.7,"lo":0.0758,"hi":0.1},{"w":1066.6,"lo":0.0494,"hi":0.1},{"w":1067.8,"lo":0.0669,"hi":0.1},{"w":1072.3,"lo":0.0494,"hi":0.1},{"w":1073,"lo":0.0494,"hi":0.1},{"w":1077.4,"lo":0.0621,"hi":0.1},{"w":1091.2,"lo":0.0733,"hi":0.105},{"w":1112.4,"lo":0.0765,"hi":0.105},{"w":1115.8,"lo":0.0829,"hi":0.105},{"w":1119.5,"lo":0.0876,"hi":0.105},{"w":1125.7,"lo":0.0605,"hi":0.105},{"w":1130.1,"lo":0.0797,"hi":0.105},{"w":1134.1,"lo":0.0733,"hi":0.1},{"w":1137,"lo":0.0701,"hi":0.1},{"w":1140.5,"lo":0.0191,"hi":0.1},{"w":1142.4,"lo":0.0574,"hi":0.1},{"w":1147.4,"lo":0.0733,"hi":0.105},{"w":1160.2,"lo":0.0685,"hi":0.105},{"w":1161.1,"lo":0.0494,"hi":0.105},{"w":1163.4,"lo":0.059,"hi":0.105},{"w":1169,"lo":0.0398,"hi":0.105},{"w":1171.2,"lo":0.0574,"hi":0.105},{"w":1177.4,"lo":0.037,"hi":0.105},{"w":1182.8,"lo":0.051,"hi":0.105},{"w":1188.7,"lo":0.0446,"hi":0.105},{"w":1191.2,"lo":0.0733,"hi":0.105},{"w":1194.6,"lo":0.0685,"hi":0.105},{"w":1197.1,"lo":0.0414,"hi":0.105},{"w":1197.6,"lo":0.0414,"hi":0.105},{"w":1208.7,"lo":0.0781,"hi":0.105},{"w":1243.1,"lo":0.0605,"hi":0.105},{"w":1243.6,"lo":0.0605,"hi":0.105},{"w":1251.8,"lo":0.0503,"hi":0.105},{"w":1252.2,"lo":0.0503,"hi":0.105},{"w":1268.2,"lo":0.0669,"hi":0.1173},{"w":1282.5,"lo":0.059,"hi":0.105},{"w":1285,"lo":0.0621,"hi":0.105},{"w":1287.9,"lo":0.0813,"hi":0.105},{"w":1289.9,"lo":0.0519,"hi":0.105},{"w":1297.3,"lo":0.0972,"hi":0.105},{"w":1312.8,"lo":0.0446,"hi":0.1275},{"w":1315.8,"lo":0.0797,"hi":0.105},{"w":1331.8,"lo":0.059,"hi":0.1},{"w":1341.6,"lo":0.0797,"hi":0.1},{"w":1345.3,"lo":0.0797,"hi":0.1},{"w":1352.2,"lo":0.0733,"hi":0.1},{"w":1358.8,"lo":0.0813,"hi":0.1},{"w":1362.5,"lo":0.0564,"hi":0.1},{"w":1366,"lo":0.0867,"hi":0.107},{"w":1369.2,"lo":0.0962,"hi":0.121},{"w":1111,"lo":0.11,"hi":0.1185},{"w":1120.8,"lo":0.11,"hi":0.118},{"w":1129.8,"lo":0.11,"hi":0.1227},{"w":1155.5,"lo":0.11,"hi":0.1185},{"w":1183,"lo":0.11,"hi":0.119},{"w":1305,"lo":0.11,"hi":0.118},{"w":1310,"lo":0.11,"hi":0.1217},{"w":1320,"lo":0.11,"hi":0.128},{"w":1323,"lo":0.11,"hi":0.1243},{"w":1449,"lo":0.12,"hi":0.1418},{"w":1468,"lo":0.12,"hi":0.1408},{"w":1484,"lo":0.12,"hi":0.1396},{"w":1495,"lo":0.12,"hi":0.1434},
{"w":1410.5,"lo":0.0892,"hi":0.115},{"w":1413.7,"lo":0.0669,"hi":0.115},{"w":1433.9,"lo":0.0781,"hi":0.115},{"w":1459.8,"lo":0.0892,"hi":0.12},{"w":1463.5,"lo":0.0876,"hi":0.12},{"w":1469.6,"lo":0.0829,"hi":0.12},{"w":1479.5,"lo":0.0749,"hi":0.12},{"w":1488.1,"lo":0.0797,"hi":0.12},{"w":1500.4,"lo":0.0892,"hi":0.12},{"w":1502.4,"lo":0.0717,"hi":0.12},{"w":1504.6,"lo":0.0797,"hi":0.12},{"w":1512.7,"lo":0.0797,"hi":0.125},{"w":1514.7,"lo":0.0892,"hi":0.125},{"w":1518.9,"lo":0.0924,"hi":0.125},{"w":1524,"lo":0.1147,"hi":0.13},{"w":1527.5,"lo":0.0803,"hi":0.13},{"w":1529,"lo":0.1147,"hi":0.13},{"w":1533.1,"lo":0.086,"hi":0.13},{"w":1539.3,"lo":0.0924,"hi":0.13},{"w":1541.3,"lo":0.0829,"hi":0.13},{"w":1541.8,"lo":0.0829,"hi":0.13},{"w":1546,"lo":0.1179,"hi":0.13},{"w":1550.9,"lo":0.102,"hi":0.13},{"w":1553.3,"lo":0.0892,"hi":0.13},{"w":1554.6,"lo":0.086,"hi":0.13},{"w":1555.8,"lo":0.0829,"hi":0.13},{"w":1557,"lo":0.0813,"hi":0.13},{"w":1562.4,"lo":0.0844,"hi":0.13},{"w":1565.4,"lo":0.0908,"hi":0.13},{"w":1569.3,"lo":0.1211,"hi":0.13},{"w":1570.6,"lo":0.086,"hi":0.13},{"w":1571.8,"lo":0.086,"hi":0.13},{"w":1573,"lo":0.086,"hi":0.13},{"w":1576.7,"lo":0.102,"hi":0.13},{"w":1580.4,"lo":0.094,"hi":0.13},{"w":1588.3,"lo":0.094,"hi":0.135},{"w":1589.5,"lo":0.0829,"hi":0.135},{"w":1590.8,"lo":0.094,"hi":0.135},{"w":1602.6,"lo":0.1211,"hi":0.135},{"w":1603.5,"lo":0.0988,"hi":0.135},{"w":1606,"lo":0.0892,"hi":0.135},{"w":1612.1,"lo":0.1338,"hi":0.14},{"w":1615.1,"lo":0.1068,"hi":0.14},{"w":1619,"lo":0.0899,"hi":0.15},{"w":1620.8,"lo":0.1354,"hi":0.15},{"w":1622.7,"lo":0.1179,"hi":0.15},{"w":1625.2,"lo":0.0956,"hi":0.15},{"w":1625.7,"lo":0.0956,"hi":0.15},{"w":1626.9,"lo":0.1418,"hi":0.15},{"w":1631.1,"lo":0.1236,"hi":0.15},{"w":1635.5,"lo":0.102,"hi":0.15},{"w":1636,"lo":0.102,"hi":0.15},{"w":1644.2,"lo":0.1052,"hi":0.15},{"w":1644.6,"lo":0.1052,"hi":0.15},{"w":1652.8,"lo":0.102,"hi":0.155},{"w":1653.3,"lo":0.102,"hi":0.155},{"w":1657,"lo":0.1338,"hi":0.155},{"w":1660.6,"lo":0.1211,"hi":0.155},{"w":1665.1,"lo":0.1131,"hi":0.155},{"w":1671.7,"lo":0.0876,"hi":0.155},{"w":1672.2,"lo":0.0876,"hi":0.155},{"w":1675.2,"lo":0.0892,"hi":0.155},{"w":1676.9,"lo":0.1147,"hi":0.155},{"w":1686,"lo":0.1147,"hi":0.16},{"w":1688.5,"lo":0.1115,"hi":0.16},{"w":1690.4,"lo":0.1068,"hi":0.16},{"w":1704.5,"lo":0.1307,"hi":0.17},{"w":1710.1,"lo":0.1115,"hi":0.17},{"w":1710.6,"lo":0.1115,"hi":0.17},{"w":1722.9,"lo":0.1243,"hi":0.16},{"w":1731,"lo":0.1084,"hi":0.16},{"w":1752.5,"lo":0.1115,"hi":0.16},{"w":1759.9,"lo":0.1386,"hi":0.15},
{"w":1411.8,"lo":0.118,"hi":0.1281},{"w":1415.5,"lo":0.118,"hi":0.1259},{"w":1418.7,"lo":0.118,"hi":0.1243},{"w":1422.9,"lo":0.115,"hi":0.1227},{"w":1429,"lo":0.115,"hi":0.1211},{"w":1433.9,"lo":0.115,"hi":0.1217},{"w":1441.3,"lo":0.125,"hi":0.1313},{"w":1445,"lo":0.125,"hi":0.1332},{"w":1449.9,"lo":0.13,"hi":0.1418},{"w":1454.9,"lo":0.13,"hi":0.1377},{"w":1462.2,"lo":0.13,"hi":0.1354},{"w":1468.9,"lo":0.13,"hi":0.1402},{"w":1475.8,"lo":0.125,"hi":0.1323},{"w":1485.1,"lo":0.13,"hi":0.1386},{"w":1490.6,"lo":0.13,"hi":0.1354},{"w":1499.2,"lo":0.13,"hi":0.1418},{"w":1506.6,"lo":0.14,"hi":0.145},{"w":1512.7,"lo":0.14,"hi":0.145},{"w":1521.3,"lo":0.14,"hi":0.1491},{"w":1531.2,"lo":0.145,"hi":0.1514},{"w":1542.3,"lo":0.145,"hi":0.1546},{"w":1549.6,"lo":0.145,"hi":0.1546},{"w":1569.3,"lo":0.145,"hi":0.1546},{"w":1573.8,"lo":0.15,"hi":0.1561},{"w":1586.6,"lo":0.155,"hi":0.1616},{"w":1634.3,"lo":0.165,"hi":0.1737},{"w":1645.4,"lo":0.17,"hi":0.1791},{"w":1657.7,"lo":0.175,"hi":0.1832},{"w":1668.8,"lo":0.17,"hi":0.1832},{"w":1683.5,"lo":0.175,"hi":0.18},{"w":1702,"lo":0.19,"hi":0.1976},{"w":1707,"lo":0.19,"hi":0.1982},{"w":1727.9,"lo":0.185,"hi":0.1912},{"w":1736.5,"lo":0.18,"hi":0.1874},{"w":1747.6,"lo":0.185,"hi":0.1944},{"w":1764.8,"lo":0.19,"hi":0.1992},{"w":1782,"lo":0.19,"hi":0.196},{"w":1788.2,"lo":0.19,"hi":0.1992},{"w":1008.2,"lo":0.105,"hi":0.1115},{"w":1041.5,"lo":0.11,"hi":0.1154},{"w":1063.6,"lo":0.11,"hi":0.1141},{"w":1087,"lo":0.11,"hi":0.1147},{"w":1105.5,"lo":0.11,"hi":0.1163},{"w":1115.3,"lo":0.11,"hi":0.1179},{"w":1144.4,"lo":0.105,"hi":0.1131},{"w":1156.5,"lo":0.11,"hi":0.1185},{"w":1181.8,"lo":0.11,"hi":0.1179},{"w":1235.7,"lo":0.11,"hi":0.1147},{"w":1246.8,"lo":0.11,"hi":0.1154},{"w":1280,"lo":0.11,"hi":0.1147},{"w":1308.4,"lo":0.11,"hi":0.1195},{"w":1321.9,"lo":0.11,"hi":0.1249},{"w":1331.8,"lo":0.11,"hi":0.1211},{"w":1344,"lo":0.11,"hi":0.1185},
{"w":1420.4,"lo":0.0892,"hi":0.1},{"w":1425.3,"lo":0.0988,"hi":0.105},{"w":1429,"lo":0.0876,"hi":0.1},{"w":1440,"lo":0.0892,"hi":0.1},{"w":1445,"lo":0.0908,"hi":0.1},{"w":1449.9,"lo":0.0972,"hi":0.105},{"w":1454.9,"lo":0.094,"hi":0.105},{"w":1474.6,"lo":0.086,"hi":0.1},{"w":1483.2,"lo":0.0908,"hi":0.1},{"w":1617.1,"lo":0.1354,"hi":0.15},{"w":1629.4,"lo":0.1386,"hi":0.15},{"w":1639.2,"lo":0.1386,"hi":0.15},{"w":1649.1,"lo":0.1434,"hi":0.155},{"w":1670,"lo":0.1386,"hi":0.155},{"w":1678.6,"lo":0.1418,"hi":0.155},{"w":1682.3,"lo":0.145,"hi":0.155},{"w":1732.8,"lo":0.1482,"hi":0.155},{"w":1743.9,"lo":0.1466,"hi":0.155},{"w":1762.3,"lo":0.1386,"hi":0.15},{"w":1772.2,"lo":0.1354,"hi":0.145},{"w":1779.6,"lo":0.1338,"hi":0.145},{"w":1789.4,"lo":0.1243,"hi":0.14},{"w":1796.8,"lo":0.1291,"hi":0.14},{"w":1804.2,"lo":0.1179,"hi":0.135},{"w":1806.7,"lo":0.1115,"hi":0.135}],
"z1":[
{"w":1082,"r":0.1034,"b":0.103},{"w":1082.021,"r":0.1097,"b":0.1092},{"w":1082.043,"r":0.1074,"b":0.1065},{"w":1082.067,"r":0.1081,"b":0.1072},{"w":1082.089,"r":0.0997,"b":0.0995},{"w":1082.113,"r":0.1074,"b":0.1072},{"w":1082.144,"r":0.1088,"b":0.1085},{"w":1082.174,"r":0.1095,"b":0.1092},{"w":1082.199,"r":0.1081,"b":0.108},{"w":1082.226,"r":0.1027,"b":0.1027},{"w":1082.257,"r":0.1088,"b":0.1085},{"w":1082.296,"r":0.1095,"b":0.1092},{"w":1082.327,"r":0.1072,"b":0.107},{"w":1082.357,"r":0.1101,"b":0.1098},{"w":1082.403,"r":0.1061,"b":0.106},{"w":1082.434,"r":0.1092,"b":0.109},{"w":1082.464,"r":0.0949,"b":0.0949},{"w":1082.489,"r":0.1088,"b":0.1075},{"w":1082.519,"r":0.1088,"b":0.1075},{"w":1082.541,"r":0.1074,"b":0.107},{"w":1082.562,"r":0.097,"b":0.097},{"w":1082.593,"r":0.1095,"b":0.1092},{"w":1082.623,"r":0.1047,"b":0.1047},{"w":1082.663,"r":0.1084,"b":0.1082},{"w":1082.715,"r":0.1119,"b":0.1116},{"w":1082.755,"r":0.1095,"b":0.1092},{"w":1082.8,"r":0.1088,"b":0.1085},{"w":1082.843,"r":0.1034,"b":0.1034},{"w":1082.868,"r":0.1088,"b":0.1085},{"w":1082.895,"r":0.1,"b":0.1},{"w":1082.923,"r":0.1081,"b":0.1078},{"w":1082.969,"r":0.1074,"b":0.1072},{"w":1083.014,"r":0.1088,"b":0.1085},{"w":1083.051,"r":0.1054,"b":0.1052},{"w":1083.082,"r":0.1047,"b":0.1045},{"w":1083.112,"r":0.0919,"b":0.0919},{"w":1083.137,"r":0.1027,"b":0.1025},{"w":1083.167,"r":0.1088,"b":0.1085},{"w":1083.198,"r":0.1041,"b":0.104},{"w":1083.228,"r":0.1095,"b":0.1092},{"w":1083.265,"r":0.1097,"b":0.1095},{"w":1083.295,"r":0.0993,"b":0.0993},{"w":1083.32,"r":0.1034,"b":0.1034},{"w":1083.35,"r":0.1014,"b":0.1014},{"w":1083.372,"r":0.1058,"b":0.1056},{"w":1083.402,"r":0.0993,"b":0.0993},{"w":1083.436,"r":0.0865,"b":0.0865},{"w":1083.457,"r":0.0878,"b":0.0878},{"w":1083.479,"r":0.1014,"b":0.0993},{"w":1083.5,"r":0.106,"b":0.077},{"w":1083.509,"r":0.1074,"b":0.1},{"w":1083.549,"r":0.1061,"b":0.1045},{"w":1083.595,"r":0.1095,"b":0.109},{"w":1083.641,"r":0.1101,"b":0.1098},{"w":1083.687,"r":0.1097,"b":0.098},{"w":1083.717,"r":0.1081,"b":0.1078},{"w":1083.748,"r":0.1014,"b":0.1014},{"w":1083.778,"r":0.1081,"b":0.1078},{"w":1083.815,"r":0.1088,"b":0.1085},{"w":1083.855,"r":0.1047,"b":0.1047},{"w":1083.891,"r":0.0851,"b":0.0851},{"w":1083.925,"r":0.1061,"b":0.106},{"w":1083.961,"r":0.1081,"b":0.1078},{"w":1084.007,"r":0.1095,"b":0.109},{"w":1084.053,"r":0.1088,"b":0.108},{"w":1084.099,"r":0.1081,"b":0.1021},{"w":1084.139,"r":0.1115,"b":0.1108},{"w":1084.175,"r":0.1088,"b":0.1085},{"w":1084.237,"r":0.1095,"b":0.1092},{"w":1084.273,"r":0.1068,"b":0.1066},{"w":1084.307,"r":0.0949,"b":0.0949},{"w":1084.337,"r":0.1084,"b":0.1082},{"w":1084.374,"r":0.1088,"b":0.1},{"w":1084.405,"r":0.1101,"b":0.1098},{"w":1084.435,"r":0.1105,"b":0.1102},{"w":1084.466,"r":0.1034,"b":0.1034},{"w":1084.496,"r":0.1097,"b":0.1095},{"w":1084.542,"r":0.1095,"b":0.1092},{"w":1084.588,"r":0.1054,"b":0.103},{"w":1084.618,"r":0.1115,"b":0.1025},{"w":1084.664,"r":0.1088,"b":0.1075},{"w":1084.725,"r":0.1101,"b":0.1098},{"w":1084.771,"r":0.1088,"b":0.1085},{"w":1084.817,"r":0.1074,"b":0.1072},{"w":1084.857,"r":0.098,"b":0.098},{"w":1084.893,"r":0.1088,"b":0.1085},{"w":1084.93,"r":0.1054,"b":0.1052},{"w":1084.964,"r":0.1088,"b":0.1085},{"w":1084.985,"r":0.1041,"b":0.1041},{"w":1085,"r":0.1097,"b":0.1095}],
"z2":[
{"w":1575,"r":0.1438,"b":0.1438},{"w":1575.04,"r":0.1492,"b":0.1475},{"w":1575.09,"r":0.1486,"b":0.1465},{"w":1575.13,"r":0.1496,"b":0.1341},{"w":1575.2,"r":0.15,"b":0.1475},{"w":1575.24,"r":0.1455,"b":0.1413},{"w":1575.31,"r":0.1424,"b":0.1413},{"w":1575.38,"r":0.1372,"b":0.1372},{"w":1575.43,"r":0.1259,"b":0.1259},{"w":1575.47,"r":0.1074,"b":0.1074},{"w":1575.52,"r":0.1259,"b":0.1259},{"w":1575.56,"r":0.1372,"b":0.1372},{"w":1575.64,"r":0.1444,"b":0.1424},{"w":1575.68,"r":0.1413,"b":0.1372},{"w":1575.71,"r":0.1475,"b":0.1228},{"w":1575.76,"r":0.1475,"b":0.1465},{"w":1575.84,"r":0.1486,"b":0.1486},{"w":1575.9,"r":0.1486,"b":0.1413},{"w":1575.94,"r":0.1486,"b":0.1475},{"w":1576.03,"r":0.1506,"b":0.1486},{"w":1576.08,"r":0.1527,"b":0.1496},{"w":1576.12,"r":0.0971,"b":0.0806},{"w":1576.17,"r":0.1516,"b":0.1506},{"w":1576.2,"r":0.1533,"b":0.1527},{"w":1576.23,"r":0.096,"b":0.096},{"w":1576.27,"r":0.1496,"b":0.1496},{"w":1576.32,"r":0.1547,"b":0.1537},{"w":1576.37,"r":0.1434,"b":0.1434},{"w":1576.42,"r":0.1516,"b":0.1506},{"w":1576.48,"r":0.1434,"b":0.1424},{"w":1576.52,"r":0.1424,"b":0.0894},{"w":1576.57,"r":0.1527,"b":0.1516},{"w":1576.63,"r":0.1475,"b":0.1475},{"w":1576.68,"r":0.1527,"b":0.1516},{"w":1576.74,"r":0.1455,"b":0.1455},{"w":1576.81,"r":0.1465,"b":0.1393},{"w":1576.86,"r":0.1475,"b":0.1475},{"w":1576.91,"r":0.1434,"b":0.1331},{"w":1576.93,"r":0.1424,"b":0.0779},{"w":1576.98,"r":0.1403,"b":0.1393},{"w":1577.03,"r":0.1341,"b":0.1341},{"w":1577.1,"r":0.1249,"b":0.1249},{"w":1577.16,"r":0.1018,"b":0.1018},{"w":1577.21,"r":0.1269,"b":0.1269},{"w":1577.26,"r":0.1341,"b":0.1321},{"w":1577.31,"r":0.1372,"b":0.1269},{"w":1577.35,"r":0.1424,"b":0.0697},{"w":1577.39,"r":0.1413,"b":0.1341},{"w":1577.47,"r":0.1352,"b":0.1352},{"w":1577.52,"r":0.1234,"b":0.1234},{"w":1577.58,"r":0.1444,"b":0.1424},{"w":1577.65,"r":0.1459,"b":0.1424},{"w":1577.71,"r":0.1506,"b":0.1362},{"w":1577.75,"r":0.1521,"b":0.1455},{"w":1577.78,"r":0.1475,"b":0.0723},{"w":1577.82,"r":0.1506,"b":0.1413},{"w":1577.9,"r":0.1486,"b":0.1444},{"w":1577.98,"r":0.1465,"b":0.1444},{"w":1578.05,"r":0.1516,"b":0.1486},{"w":1578.11,"r":0.1475,"b":0.1424},{"w":1578.18,"r":0.1516,"b":0.1475},{"w":1578.22,"r":0.1403,"b":0.0662},{"w":1578.27,"r":0.0903,"b":0.0903},{"w":1578.32,"r":0.1444,"b":0.1413},{"w":1578.38,"r":0.1595,"b":0.1595},{"w":1578.44,"r":0.1455,"b":0.1455},{"w":1578.47,"r":0.0936,"b":0.0936},{"w":1578.52,"r":0.1554,"b":0.1537},{"w":1578.59,"r":0.1527,"b":0.1486},{"w":1578.66,"r":0.1475,"b":0.0709},{"w":1578.72,"r":0.1486,"b":0.1475},{"w":1578.8,"r":0.1595,"b":0.1558},{"w":1578.87,"r":0.1486,"b":0.1475},{"w":1578.92,"r":0.1424,"b":0.1424},{"w":1578.97,"r":0.1558,"b":0.1547},{"w":1579.04,"r":0.1506,"b":0.1486},{"w":1579.11,"r":0.1516,"b":0.073},{"w":1579.17,"r":0.1516,"b":0.1475},{"w":1579.25,"r":0.1475,"b":0.1434},{"w":1579.35,"r":0.1568,"b":0.1558},{"w":1579.43,"r":0.1506,"b":0.1496},{"w":1579.5,"r":0.1465,"b":0.1465},{"w":1579.57,"r":0.1465,"b":0.0744},{"w":1579.63,"r":0.1496,"b":0.1455},{"w":1579.71,"r":0.1578,"b":0.1558},{"w":1579.78,"r":0.1496,"b":0.1486},{"w":1579.91,"r":0.1558,"b":0.1537},{"w":1579.97,"r":0.1568,"b":0.1558},{"w":1580,"r":0.1403,"b":0.1403}],
"z3":[
{"w":1666,"r":0.1767,"b":0.17},{"w":1666.014,"r":0.1767,"b":0.1736},{"w":1666.041,"r":0.1784,"b":0.1784},{"w":1666.055,"r":0.1651,"b":0.1651},{"w":1666.069,"r":0.1315,"b":0.1315},{"w":1666.084,"r":0.1135,"b":0.1135},{"w":1666.098,"r":0.1363,"b":0.1363},{"w":1666.11,"r":0.1627,"b":0.1627},{"w":1666.126,"r":0.1724,"b":0.1719},{"w":1666.151,"r":0.1776,"b":0.1719},{"w":1666.171,"r":0.1748,"b":0.1531},{"w":1666.187,"r":0.1627,"b":0.1147},{"w":1666.206,"r":0.1267,"b":0.087},{"w":1666.218,"r":0.1123,"b":0.1002},{"w":1666.234,"r":0.1459,"b":0.1411},{"w":1666.248,"r":0.17,"b":0.1675},{"w":1666.269,"r":0.1772,"b":0.1716},{"w":1666.289,"r":0.1743,"b":0.1688},{"w":1666.314,"r":0.1808,"b":0.1784},{"w":1666.33,"r":0.1736,"b":0.1724},{"w":1666.36,"r":0.1704,"b":0.17},{"w":1666.395,"r":0.1796,"b":0.1776},{"w":1666.422,"r":0.1776,"b":0.1736},{"w":1666.452,"r":0.1791,"b":0.1435},{"w":1666.479,"r":0.1675,"b":0.1272},{"w":1666.493,"r":0.1615,"b":0.1483},{"w":1666.513,"r":0.17,"b":0.1675},{"w":1666.544,"r":0.1724,"b":0.1719},{"w":1666.57,"r":0.1791,"b":0.1784},{"w":1666.605,"r":0.1772,"b":0.1767},{"w":1666.646,"r":0.1728,"b":0.1728},{"w":1666.68,"r":0.1791,"b":0.1784},{"w":1666.717,"r":0.1776,"b":0.1772},{"w":1666.747,"r":0.1736,"b":0.1712},{"w":1666.768,"r":0.1728,"b":0.1567},{"w":1666.798,"r":0.1728,"b":0.1315},{"w":1666.809,"r":0.1724,"b":0.1375},{"w":1666.819,"r":0.1579,"b":0.1351},{"w":1666.839,"r":0.1099,"b":0.1099},{"w":1666.853,"r":0.1459,"b":0.1411},{"w":1666.874,"r":0.176,"b":0.1748},{"w":1666.9,"r":0.1767,"b":0.1767},{"w":1666.921,"r":0.1712,"b":0.1712},{"w":1666.961,"r":0.1825,"b":0.1825},{"w":1666.992,"r":0.1796,"b":0.1796},{"w":1667.022,"r":0.18,"b":0.18},{"w":1667.053,"r":0.1651,"b":0.1651},{"w":1667.073,"r":0.17,"b":0.1663},{"w":1667.098,"r":0.176,"b":0.1639},{"w":1667.124,"r":0.1736,"b":0.1615},{"w":1667.149,"r":0.1724,"b":0.1543},{"w":1667.167,"r":0.1567,"b":0.1495},{"w":1667.185,"r":0.1627,"b":0.1627},{"w":1667.226,"r":0.1772,"b":0.1767},{"w":1667.287,"r":0.18,"b":0.1791},{"w":1667.348,"r":0.1791,"b":0.1736},{"w":1667.399,"r":0.182,"b":0.1767},{"w":1667.43,"r":0.176,"b":0.1712},{"w":1667.46,"r":0.1781,"b":0.1772},{"w":1667.501,"r":0.176,"b":0.176},{"w":1667.534,"r":0.1526,"b":0.1526},{"w":1667.562,"r":0.1784,"b":0.1784},{"w":1667.603,"r":0.1791,"b":0.1784},{"w":1667.644,"r":0.182,"b":0.1815},{"w":1667.684,"r":0.1776,"b":0.1767},{"w":1667.735,"r":0.1808,"b":0.1784},{"w":1667.776,"r":0.1772,"b":0.1767},{"w":1667.813,"r":0.1827,"b":0.1827},{"w":1667.847,"r":0.1776,"b":0.1772},{"w":1667.888,"r":0.1555,"b":0.1555},{"w":1667.919,"r":0.1719,"b":0.1707},{"w":1667.949,"r":0.17,"b":0.17},{"w":1667.963,"r":0.1639,"b":0.1639},{"w":1667.986,"r":0.1776,"b":0.1772},{"w":1668,"r":0.1776,"b":0.1776}]},
"vconcat":[
{"width":1116,"height":300,"data":{"name":"snr"},"mark":{"type":"point","filled":true,"size":28,"opacity":0.6,"clip":true},"encoding":{"x":{"field":"d","type":"temporal","scale":{"domain":["2023-05-23T10:00","2023-12-02T22:00"]},"axis":{"title":"Date","format":"%Y-%m","tickCount":{"interval":"month","step":1},"grid":true,"titlePadding":5}},"y":{"field":"v","type":"quantitative","scale":{"domain":[37,259],"nice":false,"zero":false},"axis":{"title":"EXT SNR","values":[50,75,100,125,150,175,200,225,250],"grid":true,"titlePadding":8}},"color":{"field":"o","type":"nominal","scale":{"domain":["15","60"],"range":["#1f77b4","#ff7f0e"]},"legend":{"orient":"none","legendX":576,"legendY":264,"columns":2,"title":null,"symbolType":"M0.3,0A0.22,0.22,0,1,1,0.74,0A0.22,0.22,0,1,1,0.3,0Z","symbolSize":625,"symbolOpacity":0.6,"symbolStrokeWidth":0,"labelOffset":19,"columnPadding":23,"padding":2,"labelExpr":"datum.value=='15' ? 'SNR[Order 15 (#134 1.08μm)]' : 'SNR[Order 60 (#89 1.63μm)]'"}}}},
{"width":1116,"height":300,"title":"Spectrum closest to Median SNR[Order 60 (#89 1.63μm)]\u00a0\u00a0\u00a0\u00a0\u00a0SNR:213.5\u00a0\u00a0\u00a0\u00a0\u00a0File: NIRPS_2023-09-15T03_58_00_224.fits","encoding":{"x":{"field":"w","type":"quantitative","scale":{"domain":[985,1809.6],"nice":false,"zero":false},"axis":{"title":"Wavelength [nm]","values":[1000,1100,1200,1300,1400,1500,1600,1700,1800],"format":"d","grid":true,"titlePadding":5}},"y":{"field":"lo","type":"quantitative","scale":{"domain":[0,0.2868],"nice":false},"axis":{"title":"Flux","values":[0,0.05,0.1,0.15,0.2,0.25],"format":".2f","grid":true,"gridOpacity":{"condition":{"test":"datum.value==0","value":0},"value":1},"titlePadding":8}}},"layer":[
{"data":{"name":"blackBand"},"mark":{"type":"area","color":"black","clip":true},"encoding":{"y2":{"field":"hi"},"detail":{"field":"g"}}},
{"data":{"name":"slits"},"mark":{"type":"rule","color":"#fefce3","opacity":0.7,"strokeWidth":0.8,"clip":true},"encoding":{"y2":{"field":"hi"}}},
{"data":{"name":"blackSpikes"},"mark":{"type":"rule","strokeWidth":1,"clip":true},"encoding":{"y2":{"field":"hi"},"color":{"datum":"Extracted Spectrum","scale":{"domain":["Extracted Spectrum","Telluric Corrected"],"range":["#000000","#ff0000"]},"legend":{"orient":"none","legendX":734,"legendY":6,"columns":2,"title":null,"symbolType":"stroke","symbolSize":625,"symbolStrokeWidth":1,"labelOffset":17,"columnPadding":25,"padding":1}}}},
{"data":{"name":"redBand"},"mark":{"type":"area","color":"#ff0000","clip":true},"encoding":{"y2":{"field":"hi"},"detail":{"field":"g"}}},
{"data":{"name":"redSpikes"},"mark":{"type":"rule","strokeWidth":1,"clip":true},"encoding":{"y2":{"field":"hi"},"color":{"datum":"Telluric Corrected"}}}]},
{"hconcat":[
{"width":328,"height":300,"title":"Zoom 1","data":{"name":"z1"},"encoding":{"x":{"field":"w","type":"quantitative","scale":{"domain":[1082,1085],"nice":false,"zero":false},"axis":{"title":"Wavelength [nm]","values":[1082,1082.5,1083,1083.5,1084,1084.5,1085],"format":".1f","grid":true,"gridOpacity":{"condition":{"test":"datum.value==1082 || datum.value==1085","value":0},"value":1},"titlePadding":5}}},"layer":[
{"mark":{"type":"line","color":"black","strokeWidth":0.8,"opacity":0.85,"clip":true},"encoding":{"y":{"field":"b","type":"quantitative","scale":{"domain":[0.044,0.167],"nice":false,"zero":false},"axis":{"title":"Flux","values":[0.06,0.08,0.1,0.12,0.14,0.16],"format":".2f","grid":true,"titlePadding":8}}}},
{"mark":{"type":"line","color":"#ff0000","strokeWidth":0.8,"opacity":0.9,"clip":true},"encoding":{"y":{"field":"r","type":"quantitative"}}}]},
{"width":328,"height":300,"title":"Zoom 2","data":{"name":"z2"},"encoding":{"x":{"field":"w","type":"quantitative","scale":{"domain":[1575,1580],"nice":false,"zero":false},"axis":{"title":"Wavelength [nm]","values":[1575,1576,1577,1578,1579,1580],"format":"d","grid":true,"gridOpacity":{"condition":{"test":"datum.value==1575 || datum.value==1580","value":0},"value":1},"titlePadding":5}}},"layer":[
{"mark":{"type":"line","color":"black","strokeWidth":0.8,"opacity":0.85,"clip":true},"encoding":{"y":{"field":"b","type":"quantitative","scale":{"domain":[0.0508,0.2368],"nice":false,"zero":false},"axis":{"title":null,"values":[0.075,0.1,0.125,0.15,0.175,0.2,0.225],"format":".3f","grid":true}}}},
{"mark":{"type":"line","color":"#ff0000","strokeWidth":0.8,"opacity":0.9,"clip":true},"encoding":{"y":{"field":"r","type":"quantitative"}}}]},
{"width":328,"height":300,"title":"Zoom 3","data":{"name":"z3"},"encoding":{"x":{"field":"w","type":"quantitative","scale":{"domain":[1666,1668],"nice":false,"zero":false},"axis":{"title":"Wavelength [nm]","values":[1666,1666.5,1667,1667.5,1668],"format":".1f","grid":true,"gridOpacity":{"condition":{"test":"datum.value==1666 || datum.value==1668","value":0},"value":1},"titlePadding":5}}},"layer":[
{"mark":{"type":"line","color":"black","strokeWidth":0.8,"opacity":0.85,"clip":true},"encoding":{"y":{"field":"b","type":"quantitative","scale":{"domain":[0.0579,0.2721],"nice":false,"zero":false},"axis":{"title":null,"values":[0.075,0.1,0.125,0.15,0.175,0.2,0.225,0.25],"format":".3f","grid":true}}}},
{"mark":{"type":"line","color":"#ff0000","strokeWidth":0.8,"opacity":0.9,"clip":true},"encoding":{"y":{"field":"r","type":"quantitative"}}}]}],
"spacing":66,"bounds":"flush","resolve":{"scale":{"y":"independent","x":"independent"}}}]}
